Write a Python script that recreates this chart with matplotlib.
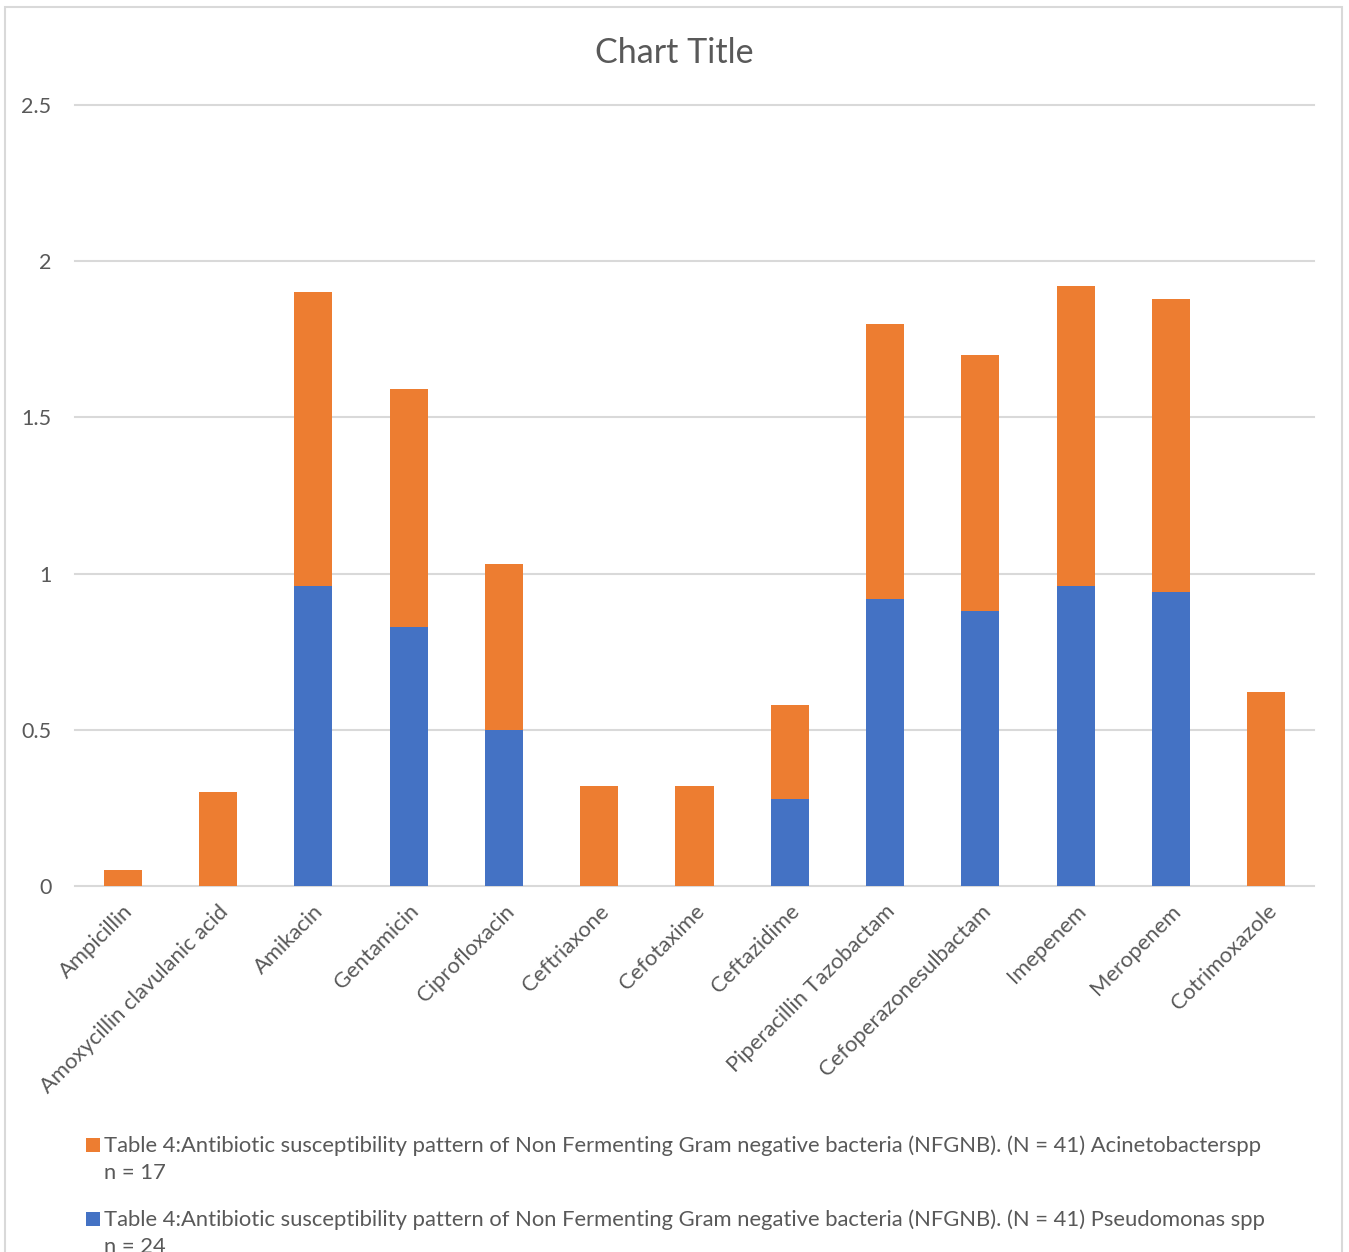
import matplotlib
matplotlib.use("Agg")
import matplotlib.pyplot as plt
from matplotlib.patches import Rectangle
import numpy as np

# Antibiotics tested
categories = [
    "Ampicillin", "Amoxycillin clavulanic acid", "Amikacin", "Gentamicin",
    "Ciprofloxacin", "Ceftriaxone", "Cefotaxime", "Ceftazidime",
    "Piperacillin Tazobactam", "Cefoperazonesulbactam", "Imepenem",
    "Meropenem", "Cotrimoxazole",
]

# Susceptibility values per organism
pseudomonas = [0.0, 0.0, 0.96, 0.83, 0.50, 0.0, 0.0, 0.28, 0.92, 0.88, 0.96, 0.94, 0.0]
acinetobacter = [0.05, 0.30, 0.94, 0.76, 0.53, 0.32, 0.32, 0.30, 0.88, 0.82, 0.96, 0.94, 0.62]

y_ticks = [0, 0.5, 1, 1.5, 2, 2.5]
y_tick_labels = ["0", "0.5", "1", "1.5", "2", "2.5"]

series_labels = [
    "Table 4:Antibiotic susceptibility pattern of Non Fermenting Gram negative bacteria (NFGNB). (N = 41) Acinetobacterspp\nn = 17",
    "Table 4:Antibiotic susceptibility pattern of Non Fermenting Gram negative bacteria (NFGNB). (N = 41) Pseudomonas spp\nn = 24",
]

ORANGE = "#ED7D31"
BLUE = "#4472C4"
GRID = "#D9D9D9"
TEXT = "#595959"

plt.rcParams["font.family"] = ["Lato", "DejaVu Sans"]

W, H = 1349, 1252
fig = plt.figure(figsize=(W / 100, H / 100), dpi=100)

# Outer chart border (runs past the lower edge)
fig.patches.append(Rectangle((5 / W, -0.05), (1342 - 5) / W, 1 - 7 / H + 0.05,
                             transform=fig.transFigure, fill=False,
                             edgecolor=GRID, linewidth=1.5))

left, right = 75 / W, 1314 / W
bottom, top = 1 - 886 / H, 1 - 105 / H
ax = fig.add_axes([left, bottom, right - left, top - bottom])

x = np.arange(len(categories))
ax.bar(x, pseudomonas, width=0.4, color=BLUE, zorder=3)
ax.bar(x, acinetobacter, width=0.4, bottom=pseudomonas, color=ORANGE, zorder=3)

ax.set_xlim(-0.5, len(categories) - 0.5)
ax.set_ylim(0, 2.5)
ax.set_yticks(y_ticks)
ax.set_yticklabels(y_tick_labels, fontsize=15.5, color=TEXT)
for yv in y_ticks:
    ax.axhline(yv, color=GRID, linewidth=1.5, zorder=1, clip_on=False)

ax.set_xticks(x)
ax.set_xticklabels(categories, rotation=45, ha="right", va="top",
                   rotation_mode="anchor", fontsize=15.8, color=TEXT)
ax.tick_params(axis="both", length=0)
ax.tick_params(axis="y", pad=17)
ax.tick_params(axis="x", pad=11)
for s in ax.spines.values():
    s.set_visible(False)

fig.text(674 / W, 1 - 53 / H, "Chart Title", ha="center", va="center",
         fontsize=24.5, color=TEXT)

# Legend entries, drawn by hand
legend_colors = [ORANGE, BLUE]
legend_rows = [1145, 1219]
for col, lab, yp in zip(legend_colors, series_labels, legend_rows):
    fig.patches.append(Rectangle((86 / W, 1 - (yp + 7) / H), 14 / W, 14 / H,
                                 transform=fig.transFigure, facecolor=col,
                                 edgecolor="none"))
    fig.text(104 / W, 1 - (yp + 14) / H, lab, ha="left", va="center",
             fontsize=15.8, color=TEXT, linespacing=1.45)

fig.savefig("out.png", dpi=100)
